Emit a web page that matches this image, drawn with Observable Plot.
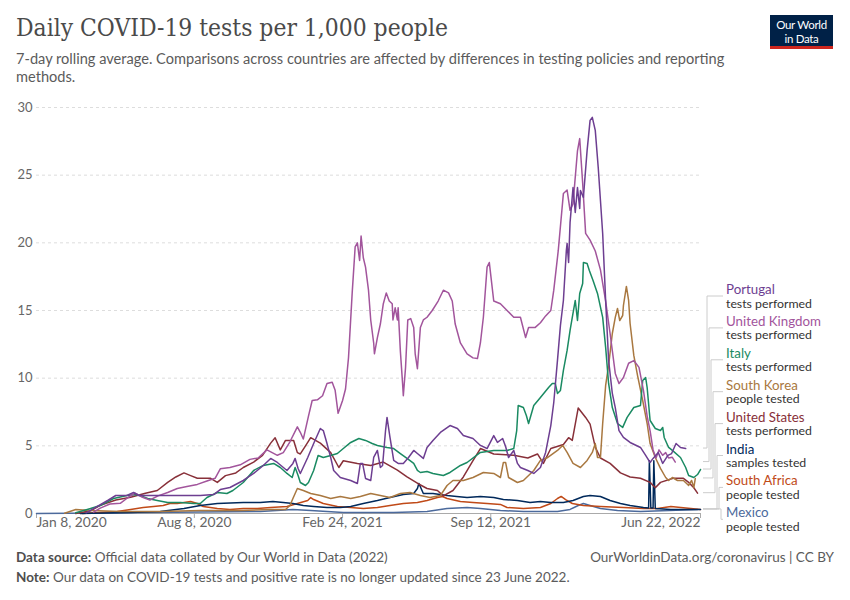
<!DOCTYPE html>
<html><head><meta charset="utf-8">
<script src="https://cdn.jsdelivr.net/npm/d3@7"></script>
<script src="https://cdn.jsdelivr.net/npm/@observablehq/plot@0.6"></script>
<style>
body{margin:0;background:#fff;}
#wrap{position:relative;width:850px;height:600px;font-family:Lato,sans-serif;overflow:hidden;background:#fff;}
#title{position:absolute;left:16px;top:15px;font-family:"DejaVu Serif Condensed","Liberation Serif",serif;font-size:24.4px;line-height:26px;color:#4a4a4a;white-space:nowrap;}
#subtitle{position:absolute;left:16px;top:50px;font-size:14.6px;line-height:18px;color:#5b5b5b;white-space:nowrap;}
#logo{position:absolute;left:770px;top:15px;width:63px;height:34px;background:#002147;border-bottom:3px solid #ce261e;color:#fff;font-size:11.5px;line-height:14px;text-align:center;letter-spacing:-0.3px;padding-top:3px;box-sizing:border-box;}
#logo div{height:14px;}
#chart{position:absolute;left:0;top:90px;}
#foot{position:absolute;left:16px;top:547px;font-size:13.5px;line-height:20px;color:#5b5b5b;white-space:nowrap;}
#foot b{font-weight:700;color:#4e4e4e;}
#right{position:absolute;right:16px;top:547px;font-size:13.5px;line-height:20px;color:#5b5b5b;white-space:nowrap;}
</style></head>
<body><div id="wrap">
<div id="title">Daily COVID-19 tests per 1,000 people</div>
<div id="subtitle">7-day rolling average. Comparisons across countries are affected by differences in testing policies and reporting<br>methods.</div>
<div id="logo"><div>Our World</div><div>in Data</div></div>
<div id="chart"></div>
<div id="foot"><b>Data source:</b> Official data collated by Our World in Data (2022)<br><b>Note:</b> Our data on COVID-19 tests and positive rate is no longer updated since 23 June 2022.</div>
<div id="right">OurWorldinData.org/coronavirus | CC BY</div>
</div>
<script>
const countries = ["Portugal","United Kingdom","Italy","South Korea","United States","India","South Africa","Mexico"];
const metrics = ["tests performed","tests performed","tests performed","people tested","tests performed","samples tested","people tested","people tested"];
const colors = ["#6D3E91","#A2559C","#1A8A62","#A97840","#883039","#00295B","#C04A18","#4C6A9C"];
const yTicks = [0,5,10,15,20,25,30];
const xTickDates = ["2020-01-08","2020-08-08","2021-02-24","2021-09-12","2022-06-22"];
const xTickLabels = ["Jan 8, 2020","Aug 8, 2020","Feb 24, 2021","Sep 12, 2021","Jun 22, 2022"];

const portugal = [["2020-03-15",0.05],["2020-04-06",0.74],["2020-04-13",0.96],["2020-04-24",1.33],["2020-05-09",1.33],["2020-05-18",1.55],["2020-05-25",1.33],["2020-06-09",1.33],["2020-07-13",1.33],["2020-08-16",1.33],["2020-09-03",1.4],["2020-09-12",1.77],["2020-09-25",1.92],["2020-10-13",2.44],["2020-10-27",2.96],["2020-11-09",3.55],["2020-11-19",4.07],["2020-11-28",3.77],["2020-12-11",3.18],["2020-12-19",3.7],["2020-12-22",4.07],["2020-12-26",3.33],["2020-12-29",2.96],["2021-01-08",4.14],["2021-01-16",5.17],["2021-01-25",6.28],["2021-01-29",6.13],["2021-02-03",5.17],["2021-02-08",4.14],["2021-02-12",3.18],["2021-02-21",2.66],["2021-03-07",2.44],["2021-03-16",2.22],["2021-03-20",3.7],["2021-03-23",3.7],["2021-03-27",2.59],["2021-04-03",2.44],["2021-04-07",4.14],["2021-04-12",4.66],["2021-04-16",3.4],["2021-04-19",3.55],["2021-04-23",6.13],["2021-04-25",7.1],["2021-04-29",5.62],["2021-05-04",3.92],["2021-05-10",3.7],["2021-05-17",3.7],["2021-05-24",4.14],["2021-05-31",4.66],["2021-06-05",4.43],["2021-06-13",4.07],["2021-06-18",4.88],["2021-06-26",5.4],["2021-07-06",5.99],["2021-07-19",6.5],["2021-07-29",6.28],["2021-08-06",5.76],["2021-08-19",5.54],["2021-08-29",5.03],["2021-09-07",4.8],["2021-09-16",5.76],["2021-09-21",5.25],["2021-09-28",5.54],["2021-10-02",4.95],["2021-10-06",4.14],["2021-10-13",4.66],["2021-10-18",3.7],["2021-10-22",3.4],["2021-11-01",3.18],["2021-11-09",2.96],["2021-11-18",3.4],["2021-11-25",4.51],["2021-12-02",6.5],["2021-12-06",8.2],["2021-12-11",11.31],["2021-12-15",13.9],["2021-12-19",15.74],["2021-12-23",19.44],["2021-12-24",19.96],["2021-12-26",18.55],["2021-12-28",21.51],["2022-01-01",24.09],["2022-01-04",22.25],["2022-01-07",24.09],["2022-01-10",22.54],["2022-01-11",23.87],["2022-01-15",23.36],["2022-01-20",26.83],["2022-01-24",29.05],["2022-01-27",29.27],["2022-01-31",28.31],["2022-02-04",25.57],["2022-02-10",20.69],["2022-02-14",15.74],["2022-02-18",11.31],["2022-02-23",8.87],["2022-02-27",7.83],["2022-03-04",6.13],["2022-03-10",5.62],["2022-03-19",5.25],["2022-04-02",4.88],["2022-04-09",4.29],["2022-04-15",3.77],["2022-04-19",4.07],["2022-04-26",4.51],["2022-05-02",3.7],["2022-05-09",4.29],["2022-05-14",4.43],["2022-05-20",5.17],["2022-05-26",4.88],["2022-06-02",4.8]];

const unitedKingdom = [["2020-03-25",0.1],["2020-04-03",0.4],["2020-04-16",0.7],["2020-04-30",0.75],["2020-05-11",1.2],["2020-05-20",1.5],["2020-05-30",1.2],["2020-06-09",1.0],["2020-06-20",1.3],["2020-07-03",1.55],["2020-07-16",1.85],["2020-07-29",2.0],["2020-08-12",2.15],["2020-08-25",2.4],["2020-09-05",2.6],["2020-09-12",3.3],["2020-09-25",3.4],["2020-10-09",3.6],["2020-10-22",4.0],["2020-11-02",4.1],["2020-11-14",4.7],["2020-11-28",4.3],["2020-12-06",4.5],["2020-12-15",5.3],["2020-12-25",6.4],["2020-12-29",6.0],["2021-01-02",5.5],["2021-01-09",7.2],["2021-01-14",8.35],["2021-01-21",8.4],["2021-01-28",8.7],["2021-02-03",9.6],["2021-02-10",9.7],["2021-02-14",9.1],["2021-02-18",7.4],["2021-02-24",8.35],["2021-02-28",9.2],["2021-03-04",11.5],["2021-03-09",16.3],["2021-03-13",19.7],["2021-03-16",20.0],["2021-03-19",18.7],["2021-03-21",20.5],["2021-03-24",18.9],["2021-03-27",18.2],["2021-03-31",16.5],["2021-04-03",14.3],["2021-04-07",12.6],["2021-04-08",11.8],["2021-04-12",13.0],["2021-04-16",14.0],["2021-04-20",15.5],["2021-04-24",16.3],["2021-04-28",15.7],["2021-05-02",15.5],["2021-05-03",14.3],["2021-05-06",15.2],["2021-05-09",14.3],["2021-05-10",15.2],["2021-05-13",12.0],["2021-05-16",9.6],["2021-05-17",8.7],["2021-05-20",10.8],["2021-05-23",14.3],["2021-05-27",14.4],["2021-05-31",13.75],["2021-06-02",11.8],["2021-06-05",10.7],["2021-06-09",13.75],["2021-06-13",14.3],["2021-06-18",14.5],["2021-06-25",15.0],["2021-07-03",15.7],["2021-07-10",16.5],["2021-07-17",16.3],["2021-07-22",15.7],["2021-07-26",14.0],["2021-08-02",12.6],["2021-08-11",11.8],["2021-08-19",11.5],["2021-08-25",11.45],["2021-08-29",12.6],["2021-09-02",14.5],["2021-09-07",18.2],["2021-09-10",18.55],["2021-09-16",15.7],["2021-09-25",15.5],["2021-10-04",15.0],["2021-10-13",14.5],["2021-10-22",14.5],["2021-10-29",13.0],["2021-11-02",13.75],["2021-11-11",13.75],["2021-11-18",14.1],["2021-11-25",14.6],["2021-12-02",15.0],["2021-12-06",16.5],["2021-12-12",19.4],["2021-12-19",23.65],["2021-12-24",23.9],["2021-12-28",22.4],["2022-01-01",22.9],["2022-01-07",26.8],["2022-01-10",27.7],["2022-01-14",24.4],["2022-01-18",20.7],["2022-01-24",20.2],["2022-01-31",19.4],["2022-02-07",18.0],["2022-02-14",15.7],["2022-02-20",13.3],["2022-02-27",10.35],["2022-03-04",9.6],["2022-03-10",10.05],["2022-03-17",11.1],["2022-03-24",11.3],["2022-03-31",10.8],["2022-04-06",9.1],["2022-04-11",7.2],["2022-04-15",6.1],["2022-04-19",4.7],["2022-04-23",4.1],["2022-04-27",4.7],["2022-05-02",4.3],["2022-05-06",4.5],["2022-05-10",4.1],["2022-05-15",4.15],["2022-05-19",3.8]];

const italy = [["2020-03-01",0.05],["2020-03-21",0.37],["2020-04-03",0.59],["2020-04-21",1.11],["2020-05-09",1.33],["2020-05-23",1.4],["2020-06-06",1.11],["2020-06-19",0.96],["2020-07-03",0.81],["2020-07-20",0.81],["2020-08-07",0.74],["2020-08-16",0.74],["2020-08-25",1.18],["2020-09-08",1.55],["2020-09-21",1.48],["2020-09-29",1.7],["2020-10-13",2.29],["2020-10-27",3.18],["2020-11-09",3.55],["2020-11-23",3.7],["2020-12-02",3.4],["2020-12-11",2.96],["2020-12-18",2.66],["2020-12-22",3.4],["2020-12-26",2.81],["2020-12-29",2.29],["2021-01-05",2.07],["2021-01-09",2.29],["2021-01-16",3.18],["2021-01-22",4.29],["2021-01-29",4.14],["2021-02-08",4.29],["2021-02-17",4.43],["2021-02-25",4.8],["2021-03-07",5.25],["2021-03-18",5.54],["2021-03-27",5.4],["2021-04-05",5.17],["2021-04-12",5.03],["2021-04-25",4.88],["2021-05-04",4.8],["2021-05-13",4.43],["2021-05-22",4.07],["2021-05-31",3.7],["2021-06-05",3.18],["2021-06-09",3.03],["2021-06-18",3.1],["2021-06-26",2.96],["2021-07-10",2.81],["2021-07-19",3.03],["2021-08-02",3.55],["2021-08-11",3.77],["2021-08-29",4.51],["2021-09-16",4.66],["2021-10-04",4.66],["2021-10-13",4.8],["2021-10-17",6.13],["2021-10-19",7.98],["2021-10-26",7.83],["2021-10-30",7.24],["2021-11-02",6.65],["2021-11-09",7.98],["2021-11-18",8.57],["2021-11-29",9.31],["2021-12-04",9.61],["2021-12-08",9.61],["2021-12-11",8.87],["2021-12-15",9.09],["2021-12-19",10.57],["2021-12-24",12.05],["2021-12-28",13.53],["2021-12-31",14.49],["2022-01-04",15.74],["2022-01-07",14.26],["2022-01-10",16.26],["2022-01-14",17.0],["2022-01-15",18.55],["2022-01-20",18.48],["2022-01-23",17.96],["2022-01-28",17.22],["2022-02-03",16.26],["2022-02-10",14.49],["2022-02-14",12.27],["2022-02-18",9.61],["2022-02-23",7.83],["2022-03-02",6.65],["2022-03-09",6.36],["2022-03-15",7.1],["2022-03-24",7.83],["2022-04-02",7.98],["2022-04-05",9.83],["2022-04-09",10.05],["2022-04-11",9.31],["2022-04-15",6.87],["2022-04-22",6.28],["2022-04-29",6.13],["2022-05-02",6.36],["2022-05-04",5.62],["2022-05-10",4.88],["2022-05-15",4.66],["2022-05-26",4.14],["2022-06-02",3.4],["2022-06-06",2.81],["2022-06-13",2.66],["2022-06-18",2.88],["2022-06-22",3.25]];

const southKorea = [["2020-02-15",0.02],["2020-03-01",0.3],["2020-03-21",0.22],["2020-04-30",0.15],["2020-06-23",0.15],["2020-08-16",0.22],["2020-10-09",0.22],["2020-11-19",0.3],["2020-12-09",0.3],["2020-12-15",0.59],["2020-12-19",1.11],["2020-12-25",1.85],["2021-01-02",1.7],["2021-01-12",1.48],["2021-01-25",1.33],["2021-02-08",1.11],["2021-02-21",1.26],["2021-03-07",1.11],["2021-03-20",1.26],["2021-04-03",1.48],["2021-04-16",1.33],["2021-04-29",1.18],["2021-05-13",1.48],["2021-05-26",1.55],["2021-06-09",1.33],["2021-06-22",1.18],["2021-07-06",1.33],["2021-07-15",2.07],["2021-07-23",2.44],["2021-08-06",2.44],["2021-08-19",2.66],["2021-09-02",3.03],["2021-09-16",2.96],["2021-09-25",2.66],["2021-09-29",3.77],["2021-10-02",3.77],["2021-10-06",2.66],["2021-10-18",2.29],["2021-10-26",2.44],["2021-11-09",3.18],["2021-11-18",3.92],["2021-11-28",4.14],["2021-12-11",4.66],["2021-12-18",5.03],["2021-12-24",4.51],["2022-01-01",3.7],["2022-01-11",3.4],["2022-01-20",3.92],["2022-01-27",4.51],["2022-01-31",5.17],["2022-02-03",4.14],["2022-02-07",4.14],["2022-02-10",6.65],["2022-02-14",9.46],["2022-02-18",10.94],["2022-02-23",13.3],["2022-02-27",14.49],["2022-03-02",15.15],["2022-03-05",14.26],["2022-03-09",14.63],["2022-03-10",15.37],["2022-03-14",16.78],["2022-03-17",15.74],["2022-03-19",14.04],["2022-03-24",11.68],["2022-03-29",10.2],["2022-04-05",8.35],["2022-04-11",6.65],["2022-04-15",5.17],["2022-04-22",4.14],["2022-04-29",3.33],["2022-05-06",2.66],["2022-05-10",2.44],["2022-05-15",2.66],["2022-05-22",2.44],["2022-05-30",2.44],["2022-06-06",2.07],["2022-06-10",2.44],["2022-06-13",1.92],["2022-06-15",2.59]];

const unitedStates = [["2020-03-01",0],["2020-03-21",0.2],["2020-04-03",0.6],["2020-04-24",1.0],["2020-05-14",1.2],["2020-06-03",1.5],["2020-06-19",1.7],["2020-07-03",2.3],["2020-07-14",2.7],["2020-07-25",3.0],["2020-08-03",2.8],["2020-08-12",2.6],["2020-08-30",2.6],["2020-09-08",2.3],["2020-09-19",2.8],["2020-10-03",3.0],["2020-10-13",3.4],["2020-10-27",3.8],["2020-11-08",4.3],["2020-11-19",5.2],["2020-11-25",5.6],["2020-12-02",4.7],["2020-12-09",5.4],["2020-12-20",5.4],["2020-12-25",4.5],["2020-12-29",4.4],["2021-01-05",5.0],["2021-01-12",5.6],["2021-01-25",5.2],["2021-02-08",4.5],["2021-02-19",3.4],["2021-02-25",3.9],["2021-03-16",3.7],["2021-04-03",3.55],["2021-04-20",3.8],["2021-05-09",3.2],["2021-05-22",2.7],["2021-06-06",2.2],["2021-06-18",1.85],["2021-07-02",1.7],["2021-07-10",1.3],["2021-07-23",1.7],["2021-08-06",2.7],["2021-08-19",3.9],["2021-08-29",4.8],["2021-09-16",4.4],["2021-10-13",4.3],["2021-11-01",4.1],["2021-11-14",4.4],["2021-11-22",3.7],["2021-12-02",4.8],["2021-12-19",5.1],["2021-12-26",5.6],["2021-12-31",5.4],["2022-01-08",7.8],["2022-01-18",7.1],["2022-01-24",6.6],["2022-01-31",4.9],["2022-02-07",4.1],["2022-02-20",3.7],["2022-03-06",3.0],["2022-03-19",2.7],["2022-04-02",2.6],["2022-04-15",2.3],["2022-04-22",1.9],["2022-04-29",2.3],["2022-05-16",2.6],["2022-05-30",2.6],["2022-06-06",2.3],["2022-06-13",1.9],["2022-06-18",1.5]];

const india = [["2020-03-07",0],["2020-05-14",0.07],["2020-06-23",0.15],["2020-07-25",0.37],["2020-08-16",0.59],["2020-09-08",0.74],["2020-10-13",0.81],["2020-11-05",0.81],["2020-11-22",0.89],["2020-12-06",0.81],["2020-12-19",0.74],["2021-01-02",0.59],["2021-01-16",0.52],["2021-02-03",0.44],["2021-02-21",0.44],["2021-03-07",0.52],["2021-03-24",0.74],["2021-04-12",0.96],["2021-04-29",1.18],["2021-05-17",1.4],["2021-05-31",1.48],["2021-06-05",1.85],["2021-06-07",2.22],["2021-06-10",1.85],["2021-06-13",1.48],["2021-06-26",1.48],["2021-07-15",1.33],["2021-07-28",1.26],["2021-08-11",1.18],["2021-08-29",1.26],["2021-09-16",1.18],["2021-09-29",1.03],["2021-10-18",0.96],["2021-11-04",0.81],["2021-11-18",0.89],["2021-12-02",0.81],["2021-12-19",0.81],["2022-01-01",0.96],["2022-01-15",1.26],["2022-01-24",1.33],["2022-02-07",1.26],["2022-02-20",0.96],["2022-03-06",0.74],["2022-03-19",0.59],["2022-04-06",0.44],["2022-04-13",0.4],["2022-04-14",3.9],["2022-04-16",0.4],["2022-04-19",0.4],["2022-04-20",3.9],["2022-04-22",0.37],["2022-05-13",0.3],["2022-06-09",0.3],["2022-06-22",0.3]];

const southAfrica = [["2020-03-10",0],["2020-04-26",0.15],["2020-05-14",0.3],["2020-05-31",0.44],["2020-06-14",0.52],["2020-06-27",0.59],["2020-07-06",0.74],["2020-07-16",0.74],["2020-07-25",0.81],["2020-08-03",0.89],["2020-08-12",0.74],["2020-08-20",0.52],["2020-09-08",0.37],["2020-09-25",0.3],["2020-10-13",0.37],["2020-11-01",0.37],["2020-11-19",0.44],["2020-12-11",0.52],["2020-12-25",0.74],["2021-01-08",0.96],["2021-01-12",1.18],["2021-01-16",1.03],["2021-01-29",0.74],["2021-02-17",0.52],["2021-03-07",0.44],["2021-03-24",0.37],["2021-04-12",0.44],["2021-04-29",0.59],["2021-05-17",0.74],["2021-06-05",0.81],["2021-06-18",0.96],["2021-07-02",1.18],["2021-07-09",1.26],["2021-07-15",1.11],["2021-08-02",0.89],["2021-08-19",0.81],["2021-09-07",0.74],["2021-09-25",0.67],["2021-10-04",0.44],["2021-10-26",0.37],["2021-11-18",0.44],["2021-12-02",0.74],["2021-12-11",1.11],["2021-12-16",1.26],["2021-12-22",1.03],["2021-12-31",0.74],["2022-01-15",0.59],["2022-02-07",0.52],["2022-03-10",0.44],["2022-04-06",0.37],["2022-04-25",0.37],["2022-05-13",0.52],["2022-06-09",0.37],["2022-06-22",0.3]];

const mexico = [["2020-01-08",0],["2020-04-03",0.04],["2020-06-09",0.07],["2020-08-16",0.11],["2020-11-05",0.15],["2020-12-19",0.3],["2021-01-12",0.22],["2021-02-25",0.07],["2021-05-04",0.07],["2021-06-18",0.15],["2021-07-15",0.37],["2021-08-11",0.44],["2021-08-29",0.37],["2021-09-25",0.22],["2021-10-26",0.15],["2021-12-11",0.15],["2021-12-28",0.3],["2022-01-08",0.59],["2022-01-15",0.74],["2022-01-24",0.59],["2022-02-07",0.37],["2022-03-02",0.22],["2022-04-02",0.15],["2022-06-18",0.3]];

const seriesList = [portugal, unitedKingdom, italy, southKorea, unitedStates, india, southAfrica, mexico];
const toDate = s => new Date(s + "T00:00:00Z");

const rows = [];
seriesList.forEach((s, i) => s.forEach(([d, v]) => rows.push({country: countries[i], date: toDate(d), value: v})));
const drawOrder = [7,6,5,4,3,2,1,0].map(i => countries[i]);
rows.sort((a, b) => drawOrder.indexOf(a.country) - drawOrder.indexOf(b.country));

const xDates = xTickDates.map(toDate);

const plot = Plot.plot({
  width: 850,
  height: 450,
  marginLeft: 36,
  marginRight: 150,
  marginTop: 17,
  marginBottom: 27,
  style: {fontFamily: "Lato, sans-serif", fontSize: "13px", background: "transparent", overflow: "visible"},
  x: {type: "utc", domain: [xDates[0], xDates[xDates.length - 1]], axis: null},
  y: {domain: [0, 30], axis: null},
  color: {domain: countries, range: colors},
  marks: [
    Plot.ruleY(yTicks.filter(d => d > 0), {stroke: "#dddddd", strokeDasharray: "3,3"}),
    Plot.ruleY([0], {stroke: "#aaaaaa"}),
    Plot.ruleX(xDates, {x: d => d, y1: 0, y2: 0, insetBottom: -5, stroke: "#aaaaaa"}),
    Plot.text(yTicks, {y: d => d, text: d => String(d), frameAnchor: "left", textAnchor: "end", dx: -4, fill: "#666", fontSize: 13}),
    Plot.text([0], {x: i => xDates[i], text: i => xTickLabels[i], frameAnchor: "bottom", textAnchor: "start", dy: 13, fill: "#666", fontSize: 13.8}),
    Plot.text([1, 2, 3], {x: i => xDates[i], text: i => xTickLabels[i], frameAnchor: "bottom", textAnchor: "middle", dy: 13, fill: "#666", fontSize: 13.8}),
    Plot.text([4], {x: i => xDates[i], text: i => xTickLabels[i], frameAnchor: "bottom", textAnchor: "end", dy: 13, fill: "#666", fontSize: 13.8}),
    Plot.line(rows, {x: "date", y: "value", z: "country", stroke: "country", strokeWidth: 1.5})
  ]
});
document.getElementById("chart").appendChild(plot);

// end-of-line labels with connectors
const ys = plot.scale("y");
const svg = d3.select(plot);
const g = svg.append("g").attr("text-anchor", "start").attr("font-family", "Lato, sans-serif");
const labelX = 726, nameBase0 = 204, step = 31.9, connStart = 703;
const kinks = [707, 709, 711, 713, 715, 717, 719, 721];
countries.forEach((c, i) => {
  const s = seriesList[i];
  const yEnd = ys.apply(s[s.length - 1][1]);
  const base = nameBase0 + i * step;
  const yLab = base + 2;
  g.append("path")
    .attr("d", `M${connStart},${yEnd}H${kinks[i]}V${yLab}H${labelX - 3}`)
    .attr("fill", "none").attr("stroke", "#cccccc").attr("stroke-width", 1);
  g.append("text").attr("x", labelX).attr("y", base).attr("fill", colors[i])
    .attr("text-anchor", "start").attr("font-size", 13.3).text(c);
  g.append("text").attr("x", labelX).attr("y", base + 13.5).attr("fill", "#333")
    .attr("text-anchor", "start").attr("font-size", 12.3).text(metrics[i]);
});
</script>
</body></html>
